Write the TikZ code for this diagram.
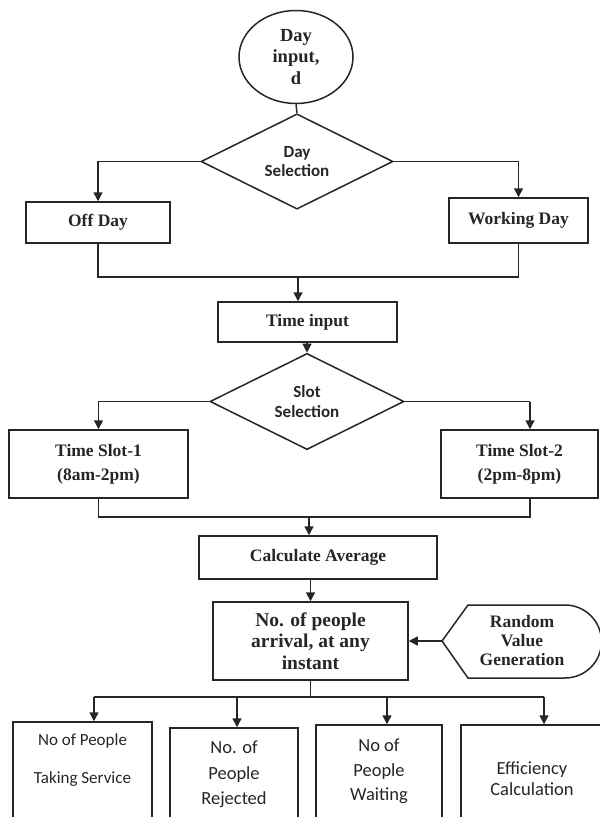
\documentclass[tikz,border=0pt]{standalone}
\usepackage{fontspec}
\setmainfont{Liberation Serif}
\newfontfamily\calibri{Carlito}
\usetikzlibrary{shapes.geometric, arrows.meta, positioning}

\begin{document}
\begin{tikzpicture}[x=1pt, y=-1pt, line width=1.5pt, black!85,
		block/.style = {draw, rectangle, inner sep=0pt, align=center,
			font=\bfseries\fontsize{17.5}{21}\selectfont},
		decision/.style = {draw, diamond, inner sep=0pt, align=center,
			font=\calibri\bfseries\fontsize{17}{19.5}\selectfont},
		outbox/.style = {draw, rectangle, inner sep=0pt, minimum height=130},
		outtext/.style = {inner sep=0pt, align=center},
		flow/.style = {-{Triangle[length=9pt, width=9pt]}}]
		\useasboundingbox (0,0) rectangle (600,817);
		\clip (0,0) rectangle (600,817);
		
		% day part
		\node [draw, ellipse, minimum width=114, minimum height=93, inner sep=0pt, align=center,
			font=\bfseries\fontsize{18.5}{21.5}\selectfont] (dayin) at (296,57) {Day\\input,\\d};
		\node [decision, minimum width=192, minimum height=83] (daysel) at (297,161.5) {Day\\Selection};
		\node [block, minimum width=144, minimum height=41] (offday) at (98,222.5) {Off Day};
		\node [block, minimum width=139, minimum height=45] (workday) at (518.5,220.5) {Working Day};
		\node [block, minimum width=179, minimum height=40] (timein) at (307.5,322) {Time input};
		
		% slot part
		\node [decision, minimum width=194, minimum height=83] (slotsel) at (307,401.5) {Slot\\Selection};
		\node [block, minimum width=179, minimum height=68, font=\bfseries\fontsize{17.5}{24}\selectfont]
			(slotone) at (98.5,464) {Time Slot-1\\(8am-2pm)};
		\node [block, minimum width=157, minimum height=68, font=\bfseries\fontsize{17.5}{24}\selectfont]
			(slottwo) at (519.5,464) {Time Slot-2\\(2pm-8pm)};
		\node [block, minimum width=238, minimum height=43] (calcavg) at (318,557.5) {Calculate Average};
		\node [block, minimum width=195, minimum height=78, font=\bfseries\fontsize{19.5}{21.5}\selectfont]
			(arrival) at (310.5,641) {No. of people\\arrival, at any\\instant};
		
		% random value
		\coordinate (randtip) at (442,641);
		\draw (randtip) -- (468,605) -- (565,605) arc [start angle=-90, end angle=90, radius=36.5]
			-- (468,678) -- cycle;
		\node [outtext, font=\bfseries\fontsize{17.5}{19}\selectfont] (randgen) at (522,641)
			{Random\\Value\\Generation};
		
		% outputs
		\node [outbox, minimum width=139] (takesrv) at (82.5,787) {};
		\node [outbox, minimum width=128] (rejected) at (234,793) {};
		\node [outbox, minimum width=126] (waiting) at (379,790) {};
		\node [outbox, minimum width=142] (effcalc) at (532,790) {};
		\node [outtext, font=\calibri\fontsize{17}{38}\selectfont, below=12pt of takesrv.north]
			(takesrvtxt) {No of People\\Taking Service};
		\node [outtext, font=\calibri\fontsize{18.5}{25.5}\selectfont, below=13pt of rejected.north]
			(rejectedtxt) {No. of\\People\\Rejected};
		\node [outtext, font=\calibri\fontsize{18.5}{24.5}\selectfont, below=14pt of waiting.north]
			(waitingtxt) {No of\\People\\Waiting};
		\node [outtext, font=\calibri\fontsize{18.5}{21}\selectfont, below=37pt of effcalc.north]
			(effcalctxt) {Efficiency\\Calculation};
		
		\coordinate (mergeday) at (298,277);
		\coordinate (brtwo) at (530,401.5);
		\coordinate (mergeslot) at (309,517);
		\coordinate (split) at (310.5,697);
		\foreach \bx/\bn in {94/takesrv, 237/rejected, 387/waiting, 544/effcalc}
			\coordinate (tap\bn) at (\bx,697);
		
		\draw (dayin.south) -- (daysel.north);
		\draw (offday.south) |- (mergeday) -| (workday.south);
		\draw (slotone.south) |- (mergeslot) -| (brtwo |- slottwo.south);
		\draw (slotsel.east) -- (brtwo);
		\draw (arrival.south) -- (split);
		\draw (taptakesrv) -- (tapeffcalc);
		
		\begin{scope}[flow]
			\draw (daysel.west) -| (offday.north);
			\draw (daysel.east) -| (workday.north);
			\draw (mergeday) -- (mergeday |- timein.north);
			\draw (slotsel.north |- timein.south) -- (slotsel.north);
			\draw (slotsel.west) -| (slotone.north);
			\draw (brtwo) -- (brtwo |- slottwo.north);
			\draw (mergeslot) -- (mergeslot |- calcavg.north);
			\draw (calcavg.south -| arrival.north) -- (arrival.north);
			\draw (randtip) -- (randtip -| arrival.east);
			\foreach \bn in {takesrv, rejected, waiting, effcalc}
				\draw (tap\bn) -- (tap\bn |- \bn.north);
		\end{scope}
	\end{tikzpicture}
\end{document}
